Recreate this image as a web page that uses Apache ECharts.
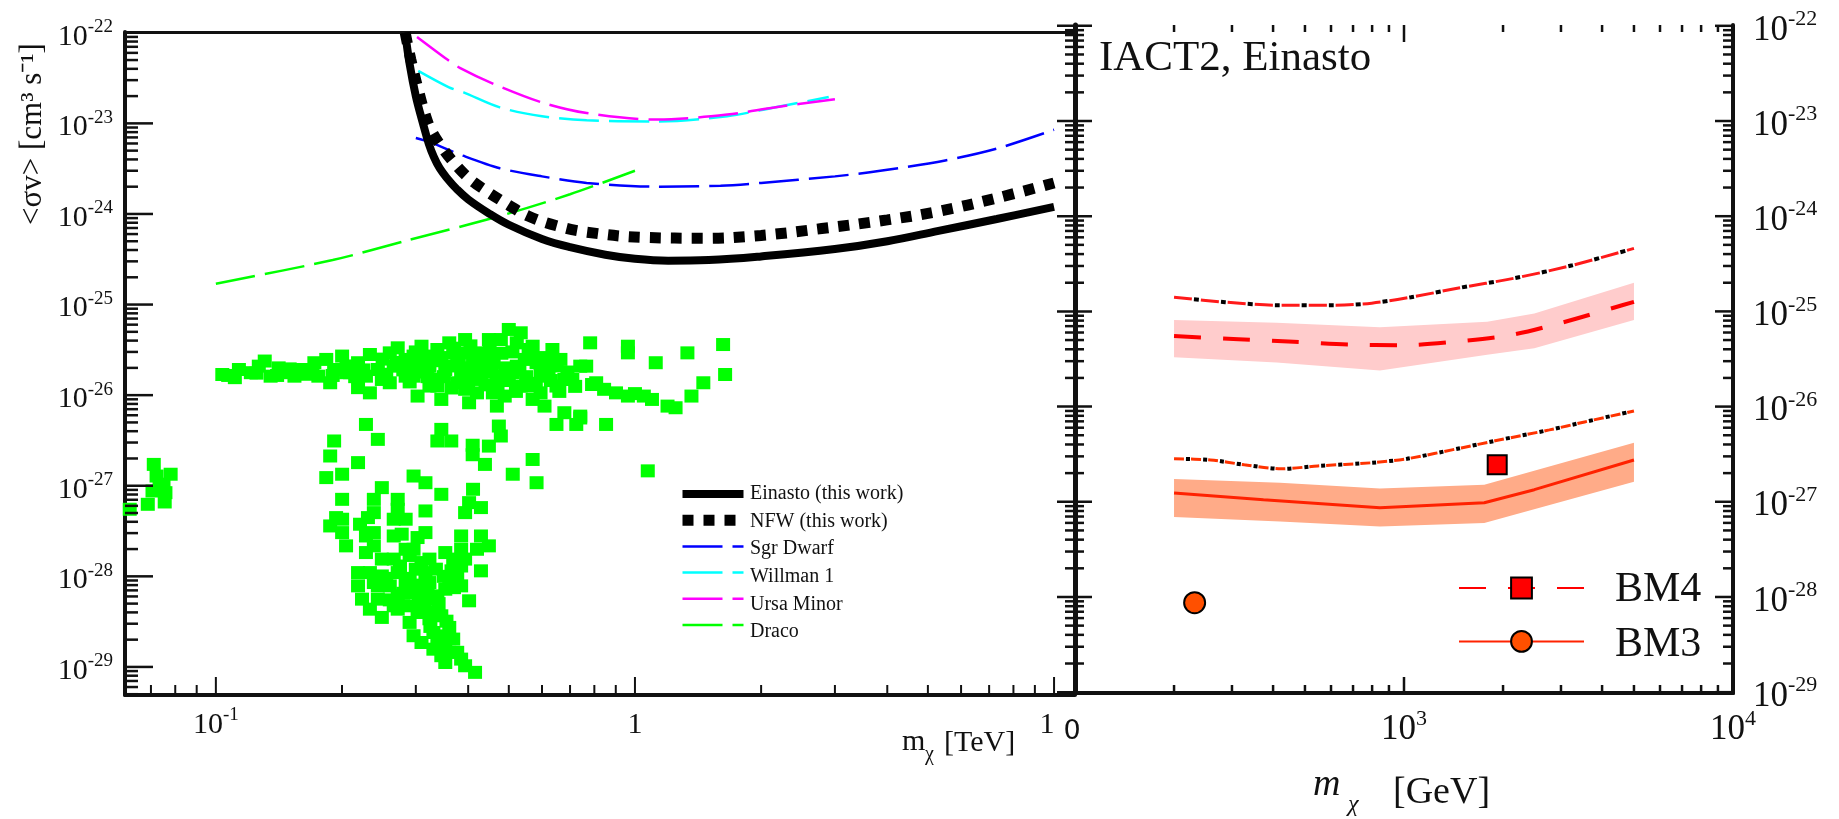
<!DOCTYPE html>
<html><head><meta charset="utf-8">
<script src="https://cdn.jsdelivr.net/npm/echarts@6/dist/echarts.min.js"></script>
<style>html,body{margin:0;padding:0;background:#fff}#c{width:1839px;height:819px}</style>
</head><body><div id="c"></div>
<script>
// ---------------- DATA (left panel: m in TeV, <sigma v> in cm^3/s) ----------------
const einasto = [[0.283,1e-22],[0.29,4.5e-23],[0.3,2e-23],[0.312,1e-23],[0.322,6e-24],[0.331,4.3e-24],[0.342,3.2e-24],[0.357,2.45e-24],[0.375,1.9e-24],[0.4,1.45e-24],[0.446,1.03e-24],[0.5,7.6e-25],[0.6,5.3e-25],[0.7,4.3e-25],[0.85,3.55e-25],[1.0,3.2e-25],[1.2,3.05e-25],[1.5,3.1e-25],[2.0,3.4e-25],[3.0,4.1e-25],[4.0,5.0e-25],[5.3,6.5e-25],[7.3,8.8e-25],[10,1.2e-24]];
const nfw = [[0.283,1e-22],[0.292,5e-23],[0.303,2.5e-23],[0.315,1.3e-23],[0.326,8.5e-24],[0.343,5.8e-24],[0.366,3.9e-24],[0.397,2.6e-24],[0.434,1.9e-24],[0.5,1.25e-24],[0.556,9.5e-25],[0.65,7.4e-25],[0.767,6.3e-25],[1.06,5.5e-25],[1.46,5.4e-25],[2.0,5.8e-25],[2.79,6.9e-25],[4.0,8.6e-25],[5.3,1.07e-24],[7.3,1.5e-24],[10,2.2e-24]];
const sgrDwarf = [[0.30,6.9e-24],[0.324,6.2e-24],[0.389,4.4e-24],[0.476,3.2e-24],[0.6,2.6e-24],[0.767,2.2e-24],[1.13,2.0e-24],[1.6,2.05e-24],[2.0,2.2e-24],[3.0,2.6e-24],[3.85,3.0e-24],[5.5,3.9e-24],[7.34,5.3e-24],[10,8.5e-24]];
const willman1 = [[0.304,3.8e-23],[0.36,2.5e-23],[0.39,2.2e-23],[0.476,1.5e-23],[0.6,1.2e-23],[0.767,1.08e-23],[1.13,1.05e-23],[1.66,1.2e-23],[2.15,1.5e-23],[2.9,1.95e-23]];
const ursaMinor = [[0.302,9e-23],[0.356,5.1e-23],[0.382,4.1e-23],[0.458,2.75e-23],[0.6,1.7e-23],[0.767,1.3e-23],[1.13,1.1e-23],[1.66,1.25e-23],[2.15,1.5e-23],[3.0,1.85e-23]];
const draco = [[0.1,1.7e-25],[0.19,3.1e-25],[0.286,5.1e-25],[0.469,9.3e-25],[0.7,1.65e-24],[1.0,3.0e-24]];

const scatterLowMass = [[0.0711,1.72e-27],[0.0722,1.28e-27],[0.078,1.34e-27],[0.075,1.04e-27],[0.0734,9.94e-28],[0.0706,8.75e-28],[0.0758,8.39e-28],[0.0688,6.24e-28],[0.0755,6.62e-28],[0.0623,5.5e-28]];
const scatterBand = [[0.1036,1.69e-26],[0.111,1.56e-26],[0.1135,1.92e-26],[0.1212,1.77e-26],[0.1308,2.38e-26],[0.1266,2.09e-26],[0.1412,2.0e-26],[0.1475,1.77e-26],[0.1351,1.62e-26],[0.154,1.62e-26],[0.1609,1.92e-26],[0.1718,2.28e-26],[0.1756,1.62e-26],[0.1834,2.48e-26],[0.1874,1.37e-26],[0.1915,1.92e-26],[0.2001,2.7e-26],[0.2045,1.77e-26],[0.209,1.77e-26],[0.2184,2.28e-26],[0.2184,1.21e-26],[0.2281,1.62e-26],[0.2331,2.81e-26],[0.2331,1.06e-26],[0.2435,1.92e-26],[0.2489,1.49e-26],[0.26,2.93e-26],[0.26,1.37e-26],[0.2657,2.09e-26],[0.2716,3.33e-26],[0.2837,2.48e-26],[0.2837,1.62e-26],[0.2963,1.62e-26],[0.2963,2.7e-26],[0.3029,9.77e-27],[0.3095,3.47e-26],[0.3095,2.28e-26],[0.3163,2.7e-26],[0.3233,2.09e-26],[0.3233,1.26e-26],[0.3377,1.26e-26],[0.3377,3.19e-26],[0.3451,8.97e-27],[0.3527,1.92e-26],[0.3605,3.78e-26],[0.3684,2.93e-26],[0.3766,2.28e-26],[0.3766,1.37e-26],[0.3848,1.77e-26],[0.3933,4.11e-26],[0.3933,2.93e-26],[0.3933,1.16e-26],[0.402,8.24e-27],[0.402,1.62e-26],[0.4108,2.48e-26],[0.4199,2.93e-26],[0.4199,1.06e-26],[0.4291,1.49e-26],[0.4386,2.09e-26],[0.4482,4.11e-26],[0.4482,2.7e-26],[0.4581,1.06e-26],[0.4683,7.57e-27],[0.4683,1.49e-26],[0.4786,1.62e-26],[0.4786,4.11e-26],[0.489,9.77e-27],[0.5,5.31e-26],[0.511,1.77e-26],[0.5224,3.78e-26],[0.5224,2.09e-26],[0.5339,1.26e-26],[0.5339,4.88e-26],[0.546,2.48e-26],[0.5576,3.19e-26],[0.5576,1.26e-26],[0.57,8.97e-27],[0.57,3.47e-26],[0.5824,2.28e-26],[0.5953,1.77e-26],[0.5953,1.06e-26],[0.6084,7.57e-27],[0.622,1.62e-26],[0.622,2.48e-26],[0.6354,3.19e-26],[0.6497,1.26e-26],[0.664,2.48e-26],[0.6785,6.4e-27],[0.6785,1.49e-26],[0.7088,1.49e-26],[0.7404,5.87e-27],[0.7404,2.09e-26],[0.765,2.09e-26],[0.7818,3.78e-26],[0.79,1.31e-26],[0.8081,1.37e-26],[0.8441,1.16e-26],[0.901,1.06e-26],[0.962,3.47e-26],[0.962,2.93e-26],[0.962,9.77e-27],[1.0,1.04e-26],[1.05,9.77e-27],[1.098,8.97e-27],[1.121,2.28e-26],[1.196,7.57e-27],[1.25,7.26e-27],[1.334,2.93e-26],[1.364,9.77e-27],[1.456,1.37e-26],[1.623,3.62e-26],[1.641,1.69e-26],
  [0.25,2.5e-26],[0.255,1.7e-26],[0.27,2.3e-26],[0.28,1.9e-26],[0.29,2.1e-26],[0.29,1.4e-26],[0.3,3.0e-26],[0.31,1.8e-26],[0.32,1.6e-26],[0.33,2.4e-26],[0.33,1.5e-26],[0.345,2.6e-26],[0.35,1.6e-26],[0.36,2.1e-26],[0.365,1.2e-26],[0.37,3.3e-26],[0.38,2.5e-26],[0.39,2.0e-26],[0.4,1.3e-26],[0.405,3.5e-26],[0.415,2.2e-26],[0.425,1.8e-26],[0.43,2.6e-26],[0.44,1.3e-26],[0.45,3.3e-26],[0.455,1.8e-26],[0.46,2.3e-26],[0.47,1.2e-26],[0.48,2.9e-26],[0.49,2.0e-26],[0.5,1.45e-26],[0.51,3.0e-26],[0.52,1.1e-26],[0.53,1.9e-26],[0.55,1.6e-26],[0.56,2.7e-26],[0.58,1.35e-26],[0.6,2.6e-26],[0.61,1.95e-26],[0.63,1.45e-26],[0.65,2.1e-26],[0.66,1.1e-26],[0.69,1.8e-26],[0.72,1.25e-26],[0.15,1.95e-26],[0.165,1.7e-26],[0.19,1.65e-26],[0.205,2.1e-26],[0.215,1.6e-26],[0.225,1.9e-26],[0.17,1.9e-26],[0.125,1.75e-26],[0.14,1.65e-26],[0.107,1.65e-26],
  [0.2281,4.75e-27],[0.2435,3.25e-27],[0.1915,3.12e-27],[0.1874,2.13e-27],[0.2184,1.8e-27],[0.3451,4.19e-27],[0.3377,3.12e-27],[0.3645,3.12e-27],[0.41,2.8e-27],[0.41,2.2e-27],[0.4482,2.74e-27],[0.4734,4.56e-27],[0.4786,3.54e-27],[0.4386,1.72e-27],[0.57,1.95e-27],[0.511,1.34e-27],[0.5824,1.08e-27],[1.073,1.46e-27],[0.6497,4.75e-27],[0.7244,4.75e-27],[0.8533,4.75e-27],[0.7404,5.6e-27]];
const scatterFan = [[0.1834,1.23e-27],[0.2001,1.34e-27],[0.2001,7.08e-28],[0.1936,4.45e-28],[0.1874,3.6e-28],[0.2001,3.04e-28],[0.2045,2.17e-28],[0.2208,3.76e-28],[0.2306,4.45e-28],[0.2382,7.08e-28],[0.2489,9.53e-28],[0.2382,3.04e-28],[0.2382,2.17e-28],[0.2281,1.83e-28],[0.2489,1.55e-28],[0.2716,7.08e-28],[0.2716,5.5e-28],[0.2837,4.27e-28],[0.2776,2.92e-28],[0.2837,1.99e-28],[0.2963,1.28e-27],[0.3163,1.08e-27],[0.3163,5.27e-28],[0.3029,2.68e-28],[0.3451,8.04e-28],[0.3527,1.83e-28],[0.4108,9.14e-28],[0.402,6.51e-28],[0.3933,5.05e-28],[0.4291,5.74e-28],[0.3848,2.79e-28],[0.4291,2.79e-28],[0.4199,1.99e-28],[0.4482,2.17e-28],[0.4291,1.15e-28],[0.3933,1.55e-28],[0.3848,1.3e-28],[0.3848,7.85e-29],[0.402,5.37e-29],[0.2331,1.1e-28],[0.2184,7.85e-29],[0.2382,8.54e-29],[0.2489,1.01e-28],[0.26,7.85e-29],[0.2837,8.54e-29],[0.3095,1.42e-28],[0.3163,1.1e-28],[0.3233,8.54e-29],[0.2963,6.63e-29],[0.2716,6.09e-29],[0.2435,5.6e-29],[0.2657,4.73e-29],[0.2331,4.34e-29],[0.2489,3.52e-29],[0.2716,4.34e-29],[0.3029,3.99e-29],[0.3233,5.6e-29],[0.3377,6.09e-29],[0.3605,9.29e-29],[0.3527,7.21e-29],[0.3095,3.99e-29],[0.3451,3.67e-29],[0.2899,3.1e-29],[0.2963,2.21e-29],[0.3095,1.86e-29],[0.3304,2.4e-29],[0.3605,2.73e-29],[0.3684,2.03e-29],[0.3304,1.57e-29],[0.3451,1.33e-29],[0.3605,1.45e-29],[0.3848,1.22e-29],[0.3933,1.03e-29],[0.4154,8.71e-30],
  [0.2716,1.1e-28],[0.2435,7.85e-29],[0.3095,6.09e-29],[0.2837,4.73e-29],[0.3233,3.4e-29],[0.3377,2.03e-29],[0.3527,1.12e-29],[0.3766,1.45e-29],[0.3527,1.7e-29],[0.2001,4.27e-28],[0.2281,2.79e-28],[0.2657,2.79e-28],[0.2963,1.99e-28],[0.2657,1.55e-28],[0.3233,1.55e-28],[0.3684,1.55e-28],[0.3766,1.01e-28],[0.3848,1.99e-28],[0.3163,3.04e-28],[0.2382,5.05e-28],[0.2657,4.27e-28],[0.2184,1.1e-28],[0.2232,5.6e-29],
  [0.29,9.5e-29],[0.3,7e-29],[0.305,5e-29],[0.31,8e-29],[0.315,4.5e-29],[0.32,6.5e-29],[0.325,2.8e-29],[0.335,4e-29],[0.34,5e-29],[0.345,2.2e-29],[0.355,3.2e-29],[0.28,6.5e-29],[0.26,5.5e-29],[0.255,9.5e-29],[0.275,1.3e-28],[0.29,1.7e-28],[0.3,1.2e-28],[0.335,1.2e-28],[0.35,1.0e-28],[0.365,1.15e-28],[0.37,7.5e-29]];

// ---------------- DATA (right panel: m in GeV) ----------------
const bm4Limit = [[200,1.41e-25],[286,1.25e-25],[419,1.16e-25],[612,1.16e-25],[798,1.22e-25],[1050,1.41e-25],[1452,1.75e-25],[2163,2.23e-25],[3251,3.05e-25],[5000,4.59e-25]];
const bm4Center = [[200,5.5e-26],[314,5.1e-26],[462,4.8e-26],[679,4.5e-26],[980,4.4e-26],[1419,4.8e-26],[2089,5.6e-26],[3013,7.6e-26],[4365,1.1e-25],[5000,1.26e-25]];
const bm4BandM = [200,410,845,1790,2490,5000];
const bm4BandHi = [8.1e-26,7.6e-26,6.8e-26,7.8e-26,9.5e-26,2.0e-25];
const bm4BandLo = [3.3e-26,2.9e-26,2.4e-26,3.5e-26,4.1e-26,8.1e-26];
const bm3Limit = [[200,2.83e-27],[258,2.75e-27],[327,2.45e-27],[425,2.22e-27],[547,2.38e-27],[798,2.57e-27],[1021,2.83e-27],[1493,3.68e-27],[1892,4.37e-27],[2767,5.69e-27],[3540,6.9e-27],[5000,9.0e-27]];
const bm3Center = [[200,1.24e-27],[374,1.05e-27],[845,8.65e-28],[1754,9.77e-28],[2490,1.34e-27],[5000,2.75e-27]];
const bm3BandM = [200,420,845,1754,5000];
const bm3BandHi = [1.74e-27,1.58e-27,1.38e-27,1.51e-27,4.17e-27];
const bm3BandLo = [6.9e-28,6.2e-28,5.5e-28,6.0e-28,1.62e-27];
const bm4Point = [[1920,2.45e-27]];
const bm3Point = [[231,8.7e-29]];

// legend names
const leftLegendNames = ['Einasto (this work)','NFW (this work)','Sgr Dwarf','Willman 1','Ursa Minor','Draco'];
const rightLegendNames = ['BM4','BM3'];

// axis ranges (y extents padded by a hair so the end decades are labelled as interior ticks)
const leftX = [0.0607, 11.22], leftY = [4.9e-30, 1.02e-22];
const rightX = [100, 10000], rightY = [0.98e-29, 1.02e-22];

// ---------------- helpers ----------------
const SERIF = 'Liberation Serif';
function expOf(v){ const e = Math.log10(v); const n = Math.round(e); return Math.abs(e-n) < 1e-6 ? n : null; }
function logTicks(lo, hi){
  const out = [];
  for (let n = Math.floor(Math.log10(lo)); n <= Math.ceil(Math.log10(hi)); n++)
    for (let k = 1; k < 10; k++){ const v = k*Math.pow(10,n); if (v >= lo && v <= hi) out.push([v, k===1?1:0]); }
  return out;
}
function tickSeries(xi, yi, data, maj, min, width){
  return {type:'custom', coordinateSystem:'cartesian2d', xAxisIndex:xi, yAxisIndex:yi, silent:true, clip:false, z:20, animation:false,
    data:data,
    renderItem:function(params, api){
      const p = api.coord([api.value(0), api.value(1)]);
      const s = api.value(2) === 1 ? maj : min;
      return {type:'line', shape:{x1:p[0]+s[0], y1:p[1]+s[1], x2:p[0]+s[2], y2:p[1]+s[3]}, style:{stroke:'#111', lineWidth:width}};
    }};
}
function bandSeries(xi, yi, xs, lo, hi, color){
  return {type:'custom', coordinateSystem:'cartesian2d', xAxisIndex:xi, yAxisIndex:yi, silent:true, animation:false, z:1,
    data: xs.map((x,i)=>[x, lo[i], hi[i]]), encode:{x:0, y:[1,2]},
    renderItem:function(params, api){
      if (params.dataIndex !== 0) return null;
      const pts = [];
      for (let i=0;i<xs.length;i++) pts.push(api.coord([xs[i], hi[i]]));
      for (let i=xs.length-1;i>=0;i--) pts.push(api.coord([xs[i], lo[i]]));
      return {type:'polygon', shape:{points:pts}, style:{fill:color}};
    }};
}
const richL = {
  b:{fontFamily:SERIF, fontSize:30, lineHeight:30, padding:[8,0,0,0], color:'#111'},
  c:{fontFamily:SERIF, fontSize:30, lineHeight:30, padding:[8,14,0,0], color:'#111'},
  s:{fontFamily:SERIF, fontSize:19, lineHeight:19, verticalAlign:'top', color:'#111'}
};
const richR = {
  b:{fontFamily:SERIF, fontSize:35, lineHeight:35, padding:[9,0,0,0], color:'#111'},
  s:{fontFamily:SERIF, fontSize:22, lineHeight:22, verticalAlign:'top', color:'#111'}
};
const noSplit = {show:false};
const noTick = {show:false};
const fmtY = function(v){ const n = expOf(v); return n===null ? '' : '{b|10}{s|'+n+'}'; };

// tick data
const lxT = logTicks(leftX[0], 10), lyT = logTicks(leftY[0], leftY[1]);
const rxT = logTicks(rightX[0], rightX[1]*1.0001), ryT = logTicks(rightY[0], rightY[1]);

// legend layout (icons by the legend component, labels as serif text beside them)
const LL = {left:677, top:487, rowH:14, gap:13.6, textX:750, font:'20px "Liberation Serif"'};
const RL = {left:1458, top:575, rowH:26, gap:29, textX:1615, font:'42px "Liberation Serif"'};
const legendText = [];
leftLegendNames.forEach((n,i)=>legendText.push({type:'text', x:LL.textX, y:LL.top + LL.rowH/2 + i*(LL.rowH+LL.gap),
  style:{text:n, font:LL.font, fill:'#111', align:'left', verticalAlign:'middle'}}));
rightLegendNames.forEach((n,i)=>legendText.push({type:'text', x:RL.textX, y:RL.top + RL.rowH/2 + i*(RL.rowH+RL.gap) + 2,
  style:{text:n, font:RL.font, fill:'#111', align:'left', verticalAlign:'middle'}}));

const chart = echarts.init(document.getElementById('c'), null, {renderer:'canvas'});
chart.setOption({
  animation:false,
  backgroundColor:'#fff',
  textStyle:{fontFamily:SERIF},
  title:{text:'IACT2, Einasto', left:1099, top:37, padding:0,
    textStyle:{fontFamily:SERIF, fontSize:43, fontWeight:'normal', color:'#111'}},
  grid:[
    {left:125, top:32, width:950, height:663, containLabel:false, outerBoundsMode:'none'},
    {left:1075, top:25, width:658, height:668, containLabel:false, outerBoundsMode:'none'}
  ],
  xAxis:[
    {type:'log', gridIndex:0, position:'bottom', min:leftX[0], max:leftX[1],
      axisLine:{lineStyle:{color:'#111', width:4}}, axisTick:noTick, splitLine:noSplit,
      axisLabel:{interval:0, margin:11, showMinLabel:true, showMaxLabel:true, rich:richL, formatter:function(v){const n=expOf(v); if(n===-1) return '{b|10}{s|-1}'; if(n===0) return '{b|1}'; if(n===1) return '{c|1}'; return '';}}},
    {type:'log', gridIndex:0, position:'top', min:leftX[0], max:leftX[1],
      axisLine:{lineStyle:{color:'#111', width:3}}, axisTick:noTick, axisLabel:{show:false}, splitLine:noSplit},
    {type:'log', gridIndex:1, position:'bottom', min:rightX[0], max:rightX[1],
      axisLine:{lineStyle:{color:'#111', width:4}}, axisTick:noTick, splitLine:noSplit,
      axisLabel:{interval:0, margin:15, showMinLabel:true, showMaxLabel:true, rich:richR, formatter:function(v){const n=expOf(v); return (n===3||n===4) ? '{b|10}{s|'+n+'}' : '';}}},
    {type:'log', gridIndex:1, position:'top', min:rightX[0], max:rightX[1],
      axisLine:{lineStyle:{color:'#111', width:4}}, axisTick:noTick, axisLabel:{show:false}, splitLine:noSplit}
  ],
  yAxis:[
    {type:'log', gridIndex:0, position:'left', min:leftY[0], max:leftY[1],
      axisLine:{lineStyle:{color:'#111', width:4}}, axisTick:noTick, splitLine:noSplit,
      axisLabel:{interval:0, margin:12, showMinLabel:true, showMaxLabel:true, hideOverlap:false, rich:richL, formatter:fmtY}},
    {type:'log', gridIndex:1, position:'right', min:rightY[0], max:rightY[1],
      axisLine:{lineStyle:{color:'#111', width:4}}, axisTick:noTick, splitLine:noSplit,
      axisLabel:{interval:0, margin:20, showMinLabel:true, showMaxLabel:true, hideOverlap:false, rich:richR, formatter:fmtY}},
    {type:'log', gridIndex:1, position:'left', min:rightY[0], max:rightY[1],
      axisLine:{lineStyle:{color:'#111', width:5}}, axisTick:noTick, axisLabel:{show:false}, splitLine:noSplit}
  ],
  legend:[
    {data:[
        {name:leftLegendNames[0], lineStyle:{width:8}},
        {name:leftLegendNames[1], lineStyle:{width:11}},
        {name:leftLegendNames[2], lineStyle:{width:2.5}},
        {name:leftLegendNames[3], lineStyle:{width:2.5}},
        {name:leftLegendNames[4], lineStyle:{width:2.5}},
        {name:leftLegendNames[5], lineStyle:{width:2.5}}],
      orient:'vertical', left:LL.left, top:LL.top, itemWidth:61, itemHeight:LL.rowH, itemGap:LL.gap, padding:0,
      selectedMode:false, itemStyle:{opacity:0}, formatter:function(){ return ''; }},
    {data:rightLegendNames, orient:'vertical', left:RL.left, top:RL.top, itemWidth:125, itemHeight:RL.rowH, itemGap:RL.gap, padding:0,
      selectedMode:false, formatter:function(){ return ''; }}
  ],
  graphic:[
    {type:'text', x:33, y:134, rotation:Math.PI/2, style:{text:'<σv> [cm³ s⁻¹]', font:'31px "Liberation Serif"', fill:'#111', align:'center', verticalAlign:'middle'}},
    {type:'text', x:902, y:742, style:{text:'m', font:'30px "Liberation Serif"', fill:'#111', align:'left', verticalAlign:'middle'}},
    {type:'text', x:925, y:755, style:{text:'χ', font:'20px "Liberation Serif"', fill:'#111', align:'left', verticalAlign:'middle'}},
    {type:'text', x:944, y:743, style:{text:'[TeV]', font:'30px "Liberation Serif"', fill:'#111', align:'left', verticalAlign:'middle'}},
    {type:'text', x:1072, y:732, style:{text:'0', font:'27px "DejaVu Sans"', fill:'#111', align:'center', verticalAlign:'middle'}},
    {type:'text', x:1313, y:785, style:{text:'m', font:'italic 38px "Liberation Serif"', fill:'#111', align:'left', verticalAlign:'middle'}},
    {type:'text', x:1348, y:805, style:{text:'χ', font:'italic 24px "Liberation Serif"', fill:'#111', align:'left', verticalAlign:'middle'}},
    {type:'text', x:1393, y:793, style:{text:'[GeV]', font:'38px "Liberation Serif"', fill:'#111', align:'left', verticalAlign:'middle'}}
  ].concat(legendText),
  series:[
    // left panel
    {type:'scatter', xAxisIndex:0, yAxisIndex:0, symbol:'rect', symbolSize:[14,13], itemStyle:{color:'#00ff00', opacity:1}, z:2, silent:true,
      data: scatterLowMass.concat(scatterBand, scatterFan)},
    {name:'Draco', type:'line', xAxisIndex:0, yAxisIndex:0, data:draco, symbol:'none', smooth:0.3, color:'#00ff00',
      lineStyle:{color:'#00ff00', width:2.5, type:[40,10]}, itemStyle:{color:'#00ff00'}, z:3},
    {name:'Sgr Dwarf', type:'line', xAxisIndex:0, yAxisIndex:0, data:sgrDwarf, symbol:'none', smooth:0.3, color:'#0000ff',
      lineStyle:{color:'#0000ff', width:2.5, type:[40,10]}, itemStyle:{color:'#0000ff'}, z:3},
    {name:'Willman 1', type:'line', xAxisIndex:0, yAxisIndex:0, data:willman1, symbol:'none', smooth:0.3, color:'#00ffff',
      lineStyle:{color:'#00ffff', width:2.5, type:[40,10]}, itemStyle:{color:'#00ffff'}, z:3},
    {name:'Ursa Minor', type:'line', xAxisIndex:0, yAxisIndex:0, data:ursaMinor, symbol:'none', smooth:0.3, color:'#ff00ff',
      lineStyle:{color:'#ff00ff', width:2.5, type:[40,10]}, itemStyle:{color:'#ff00ff'}, z:3},
    {name:'NFW (this work)', type:'line', xAxisIndex:0, yAxisIndex:0, data:nfw, symbol:'none', smooth:0.4, color:'#000',
      lineStyle:{color:'#000', width:11, type:[11,10], cap:'butt'}, itemStyle:{color:'#000'}, z:4},
    {name:'Einasto (this work)', type:'line', xAxisIndex:0, yAxisIndex:0, data:einasto, symbol:'none', smooth:0.4, color:'#000',
      lineStyle:{color:'#000', width:8}, itemStyle:{color:'#000'}, z:5},
    // right panel bands
    bandSeries(2, 1, bm4BandM, bm4BandLo, bm4BandHi, '#ffcccc'),
    bandSeries(2, 1, bm3BandM, bm3BandLo, bm3BandHi, '#ffab88'),
    // right panel limit lines (red dashes + black dots)
    {type:'line', xAxisIndex:2, yAxisIndex:1, data:bm4Limit, symbol:'none', smooth:0.3, silent:true,
      lineStyle:{color:'#ff1a1a', width:3, type:[18,9]}, z:3},
    {type:'line', xAxisIndex:2, yAxisIndex:1, data:bm4Limit, symbol:'none', smooth:0.3, silent:true,
      lineStyle:{color:'#000', width:4, type:[5,22], dashOffset:-20}, z:3},
    {type:'line', xAxisIndex:2, yAxisIndex:1, data:bm3Limit, symbol:'none', smooth:0.3, silent:true,
      lineStyle:{color:'#ff3300', width:3, type:[10,7]}, z:3},
    {type:'line', xAxisIndex:2, yAxisIndex:1, data:bm3Limit, symbol:'none', smooth:0.3, silent:true,
      lineStyle:{color:'#000', width:4, type:[4,13], dashOffset:-12}, z:3},
    // centre lines (legend entries)
    {name:'BM4', type:'line', xAxisIndex:2, yAxisIndex:1, data:bm4Center, symbol:'rect', showSymbol:false, smooth:0.3, color:'#ff0000',
      lineStyle:{color:'#ff0000', width:4, type:[27,22]}, itemStyle:{color:'#ff0000', borderColor:'#000', borderWidth:2, opacity:1}, z:4},
    {name:'BM3', type:'line', xAxisIndex:2, yAxisIndex:1, data:bm3Center, symbol:'circle', showSymbol:false, color:'#ff2200',
      lineStyle:{color:'#ff2200', width:3}, itemStyle:{color:'#ff5000', borderColor:'#000', borderWidth:2, opacity:1}, z:4},
    // benchmark points
    {type:'scatter', xAxisIndex:2, yAxisIndex:1, data:bm4Point, symbol:'rect', symbolSize:19, silent:true,
      itemStyle:{color:'#ff0000', borderColor:'#000', borderWidth:2, opacity:1}, z:6},
    {type:'scatter', xAxisIndex:2, yAxisIndex:1, data:bm3Point, symbol:'circle', symbolSize:21, silent:true,
      itemStyle:{color:'#ff5000', borderColor:'#000', borderWidth:2, opacity:1}, z:6},
    // tick marks
    tickSeries(0, 0, lyT.map(t=>[leftX[0], t[0], t[1]]), [0,0,28,0], [0,0,13,0], 2.5),
    tickSeries(0, 0, lxT.map(t=>[t[0], leftY[0], t[1]]), [0,0,0,-18], [0,0,0,-10], 2),
    tickSeries(2, 1, ryT.map(t=>[rightX[0], t[0], t[1]]), [-18,0,17,0], [-10,0,9,0], 2.5),
    tickSeries(2, 1, ryT.map(t=>[rightX[1], t[0], t[1]]), [0,0,-18,0], [0,0,-10,0], 2.5),
    tickSeries(2, 1, rxT.map(t=>[t[0], rightY[1], t[1]]), [0,0,0,17], [0,0,0,7], 2.5),
    tickSeries(2, 1, rxT.map(t=>[t[0], rightY[0], t[1]]), [0,0,0,-16], [0,0,0,-8], 2.5)
  ]
});
</script></body></html>
